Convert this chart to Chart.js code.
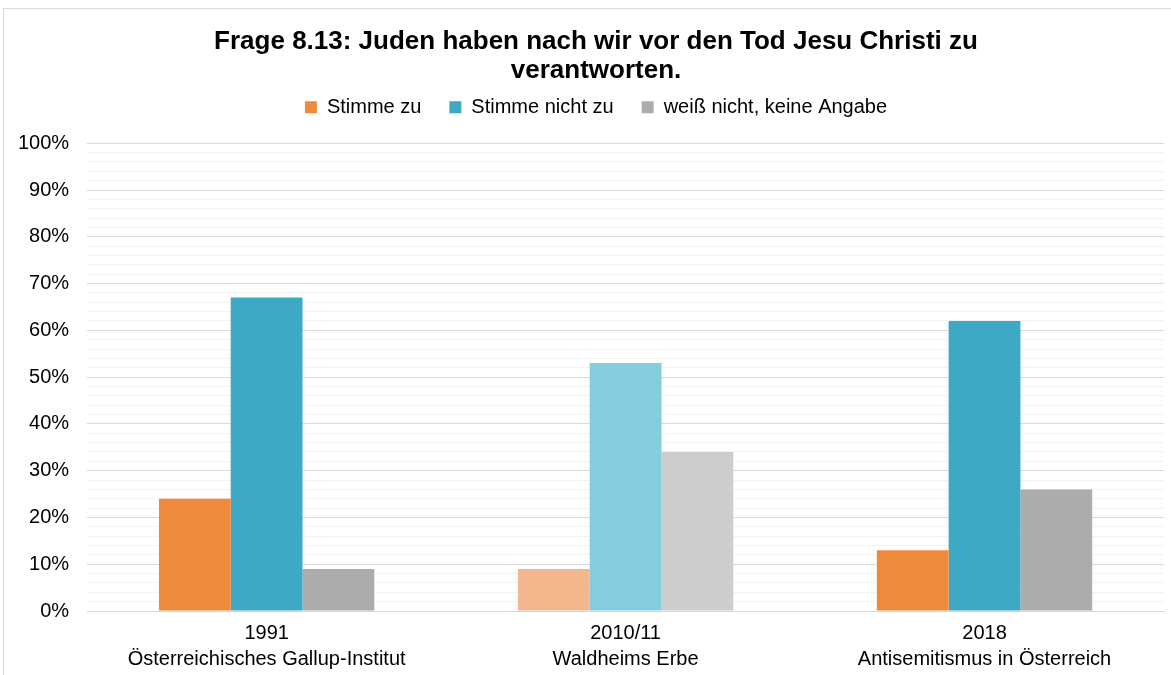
<!DOCTYPE html>
<html lang="de">
<head>
    <meta charset="UTF-8">
    <title>Frage 8.13</title>
    <script src="https://cdn.jsdelivr.net/npm/chart.js"></script>
    <style>
        body { margin: 0; background: #fff; overflow: hidden; }
        #frame {
            position: absolute; left: 3px; top: 8px; width: 1180px; height: 680px;
            border: 1px solid #d9d9d9; box-sizing: border-box;
        }
        #wrap { position: absolute; left: 0; top: 0; width: 1171px; height: 675px; }
    </style>
</head>
<body>
    <div id="frame"></div>
    <div id="wrap"><canvas id="chart"></canvas></div>
    <script>
        // Daten
        const categories = [
            ['1991', 'Österreichisches Gallup-Institut'],
            ['2010/11', 'Waldheims Erbe'],
            ['2018', 'Antisemitismus in Österreich']
        ];
        const stimmeZu = [24, 9, 13];
        const stimmeNichtZu = [67, 53, 62];
        const weissNicht = [9, 34, 26];

        // Mittlere Gruppe heller dargestellt
        const orange = ['#ef8a3c', '#f4b68c', '#ef8a3c'];
        const blue = ['#3ea9c4', '#84cddf', '#3ea9c4'];
        const gray = ['#acacac', '#cdcdcd', '#acacac'];

        Chart.defaults.font.family = '"Liberation Sans", Arial, sans-serif';
        Chart.defaults.color = '#000';

        // Abstand unter der Legende + Titel/Legende etwas nach rechts
        const headerTweak = {
            id: 'headerTweak',
            beforeLayout(chart) {
                const lg = chart.legend;
                if (lg && !lg._gapPatched) {
                    const fit = lg.fit.bind(lg);
                    lg.fit = function () { fit(); this.height += 16; };
                    lg._gapPatched = true;
                }
            },
            afterLayout(chart) {
                [chart.titleBlock, chart.legend].forEach(b => {
                    if (b) { b.left += 14; b.right += 14; }
                });
            }
        };

        new Chart(document.getElementById('chart'), {
            type: 'bar',
            data: {
                labels: categories,
                datasets: [
                    { label: 'Stimme zu', data: stimmeZu, backgroundColor: orange },
                    { label: 'Stimme nicht zu', data: stimmeNichtZu, backgroundColor: blue },
                    { label: 'weiß nicht, keine Angabe', data: weissNicht, backgroundColor: gray }
                ]
            },
            plugins: [headerTweak],
            options: {
                responsive: true,
                maintainAspectRatio: false,
                animation: false,
                layout: { padding: { left: 0, right: 7, top: 27, bottom: -6 } },
                datasets: { bar: { barPercentage: 1, categoryPercentage: 0.6 } },
                plugins: {
                    title: {
                        display: true,
                        text: ['Frage 8.13: Juden haben nach wir vor den Tod Jesu Christi zu', 'verantworten.'],
                        font: { size: 26, weight: 'bold', lineHeight: 1.12 },
                        padding: { top: 0, bottom: -16 }
                    },
                    legend: {
                        labels: {
                            boxWidth: 12, boxHeight: 12, padding: 28,
                            font: { size: 20 },
                            generateLabels: chart => chart.data.datasets.map((ds, i) => ({
                                text: ds.label,
                                fillStyle: ds.backgroundColor[0],
                                strokeStyle: ds.backgroundColor[0],
                                lineWidth: 0,
                                datasetIndex: i
                            }))
                        }
                    },
                    tooltip: { enabled: false }
                },
                scales: {
                    x: {
                        grid: { display: false, drawTicks: false },
                        border: { color: '#d9d9d9' },
                        ticks: { font: { size: 20, lineHeight: 1.3 }, padding: 9 }
                    },
                    y: {
                        min: 0, max: 100,
                        border: { display: false },
                        grid: {
                            color: ctx => (ctx.tick && ctx.tick.value % 10 === 0) ? '#d9d9d9' : '#f2f2f2',
                            drawTicks: false
                        },
                        ticks: {
                            stepSize: 2,
                            autoSkip: false,
                            padding: 18,
                            font: { size: 20 },
                            callback: v => v % 10 === 0 ? v + '%' : ''
                        }
                    }
                }
            }
        });
    </script>
</body>
</html>
